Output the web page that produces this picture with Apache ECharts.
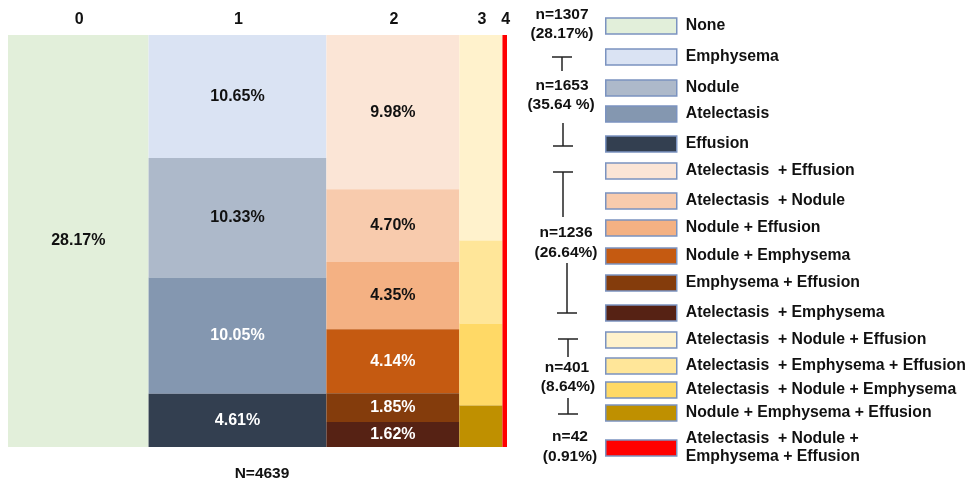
<!DOCTYPE html>
<html><head><meta charset="utf-8">
<script src="https://cdn.jsdelivr.net/npm/echarts@6/dist/echarts.min.js"></script>
<style>html,body{margin:0;padding:0;background:#fff}#c{width:969px;height:485px}</style>
</head><body><div id="c"></div>
<script>
// ---- data ----
const categories = ['None','Emphysema','Nodule','Atelectasis','Effusion',
  'Atelectasis + Effusion','Atelectasis + Nodule','Nodule + Effusion','Nodule + Emphysema','Emphysema + Effusion','Atelectasis + Emphysema',
  'Atelectasis + Nodule + Effusion','Atelectasis + Emphysema + Effusion','Atelectasis + Nodule + Emphysema','Nodule + Emphysema + Effusion',
  'Atelectasis + Nodule + Emphysema + Effusion'];
const percents = [28.17, 10.65,10.33,10.05,4.61, 9.98,4.70,4.35,4.14,1.85,1.62, 4.31,1.74,1.72,0.87, 0.91];
const groups   = [0, 1,1,1,1, 2,2,2,2,2,2, 3,3,3,3, 4];
const groupNames = ['0','1','2','3','4'];
const groupCounts = [1307,1653,1236,401,42];
const groupPctText = ['(28.17%)','(35.64 %)','(26.64%)','(8.64%)','(0.91%)'];
const totalN = 4639;
const labelledGroups = [0,1,2];

// ---- styles ----
const colors = ['#e2efda','#dae3f3','#adb9ca','#8497b0','#333f50',
  '#fbe5d6','#f8cbad','#f4b183','#c55a11','#843c0c','#562214',
  '#fff2cc','#ffe699','#ffd966','#bf9000','#ff0000'];
const whiteLabel = [false,false,false,true,true,false,false,false,true,true,true,false,false,false,false,false];
const FONT = 'Liberation Sans, Arial, Helvetica, sans-serif';
const legendCenters = [26,57,88,114,144,171,201,228,256,283,313,340,366,390,413,448];

// ---- layout from data ----
const nG = groupNames.length;
const gTot = new Array(nG).fill(0);
percents.forEach((p,i)=>{ gTot[groups[i]] += p; });
const gStart = []; let acc = 0;
for (let g=0; g<nG; g++){ gStart.push(acc); acc += gTot[g]; }
const gAcc = new Array(nG).fill(0);
const segData = percents.map((p,i)=>{
  const g = groups[i];
  const x0 = gStart[g], x1 = gStart[g] + gTot[g];
  const yTop = 1 - gAcc[g]/gTot[g];
  gAcc[g] += p;
  const yBot = 1 - gAcc[g]/gTot[g];
  return [x0, x1, yBot, yTop, i];
});

function segRender(params, api){
  const idx = api.value(4);
  const tl = api.coord([api.value(0), api.value(3)]);
  const br = api.coord([api.value(1), api.value(2)]);
  const el = {
    type:'rect',
    shape:{x:tl[0], y:tl[1], width:br[0]-tl[0], height:br[1]-tl[1]},
    style:{fill: colors[idx]}
  };
  if (labelledGroups.indexOf(groups[idx]) >= 0){
    el.textContent = {style:{text: percents[idx].toFixed(2)+'%', fill: whiteLabel[idx] ? '#ffffff' : '#111111', font: 'bold 16px '+FONT}};
    el.textConfig = {position:'inside'};
  }
  return el;
}

const series = categories.map((name,i)=>({
  name: name, type:'custom', renderItem: segRender,
  itemStyle:{color: colors[i]},
  encode:{x:[0,1], y:[2,3]},
  data:[segData[i]], silent:true
}));

series.push({
  name:'headers', type:'custom', silent:true,
  encode:{x:0, y:1},
  data: groupNames.map((n,g)=>[gStart[g]+gTot[g]/2, 1, g]),
  renderItem: function(params, api){
    const p = api.coord([api.value(0), api.value(1)]);
    return {type:'text', x:p[0]+1, y:p[1]-15, style:{text: groupNames[api.value(2)], font:'bold 16px '+FONT, fill:'#111', align:'center', verticalAlign:'middle'}};
  }
});

function legendText(name){
  let t = name.replace(/^Atelectasis \+/, 'Atelectasis  +');
  if (t.split(' + ').length === 4) t = 'Atelectasis  + Nodule +\nEmphysema + Effusion';
  return t;
}

const legends = categories.map((n,i)=>{
  const lines = legendText(n).split('\n').length;
  return {
    data:[n], left:605, top: legendCenters[i] - lines*9, orient:'vertical', padding:0,
    itemWidth:71, itemHeight:16, icon:'rect', selectedMode:false,
    itemStyle:{borderColor:'#7b93c0', borderWidth:1.5},
    textStyle:{fontFamily:FONT, fontWeight:'bold', fontSize:15.8, color:'#111', lineHeight:18, padding:[0,0,0,4]},
    formatter: legendText
  };
});

// ---- annotations ----
const annTextPos = [[562,15,562,34],[562,86,561,105],[566,233,566,253],[567,368,568,387],[570,437,570,457]];
const brackets = [
  [[552,57,572,57],[562,57,562,71]],
  [[563,123,563,146],[553,146,573,146]],
  [[553,172,573,172],[563,172,563,217]],
  [[567,263,567,313],[557,313,577,313]],
  [[558,339,578,339],[568,339,568,357]],
  [[568,398,568,414],[558,414,578,414]]
];
const graphic = [];
groupCounts.forEach((c,g)=>{
  const p = annTextPos[g];
  graphic.push({type:'text', x:p[0], y:p[1], style:{text:'n='+c, font:'bold 15.5px '+FONT, fill:'#111', align:'center', verticalAlign:'middle'}});
  graphic.push({type:'text', x:p[2], y:p[3], style:{text:groupPctText[g], font:'bold 15.5px '+FONT, fill:'#111', align:'center', verticalAlign:'middle'}});
});
brackets.forEach(b=>b.forEach(l=>{
  graphic.push({type:'line', shape:{x1:l[0],y1:l[1],x2:l[2],y2:l[3]}, style:{stroke:'#222', lineWidth:1.5}});
}));
graphic.push({type:'text', x:262, y:474, style:{text:'N='+totalN, font:'bold 15.5px '+FONT, fill:'#111', align:'center', verticalAlign:'middle'}});

const chart = echarts.init(document.getElementById('c'), null, {renderer:'canvas'});
chart.setOption({
  animation:false,
  backgroundColor:'#ffffff',
  grid:{left:8, right:462, top:35, bottom:38, containLabel:false},
  xAxis:{type:'value', min:0, max:100, show:false},
  yAxis:{type:'value', min:0, max:1, show:false},
  legend: legends,
  series: series,
  graphic: graphic
});
</script></body></html>
